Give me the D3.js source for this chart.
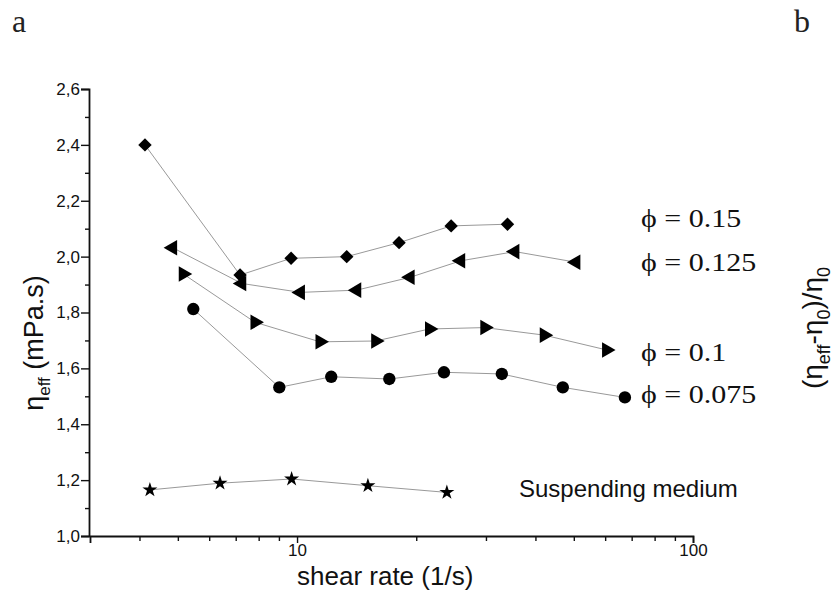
<!DOCTYPE html>
<html>
<head>
<meta charset="utf-8">
<script src="https://cdn.jsdelivr.net/npm/d3@7"></script>
<style>
  body { margin: 0; background: #fff; }
  svg { display: block; }
</style>
</head>
<body>
<div id="chart"></div>
<script>
// shear rate (1/s) and effective viscosity (mPa.s)
var phi150_x = [4.13, 7.18, 9.66, 13.35, 18.1, 24.5, 34.0];
var phi150_y = [2.40, 1.934, 1.994, 2.00, 2.05, 2.11, 2.116];
var phi125_x = [4.85, 7.25, 10.2, 14.15, 19.3, 25.9, 35.5, 50.6];
var phi125_y = [2.032, 1.904, 1.872, 1.88, 1.926, 1.985, 2.018, 1.98];
var phi100_x = [5.16, 7.83, 11.43, 15.8, 21.6, 29.8, 42.1, 60.5];
var phi100_y = [1.938, 1.765, 1.695, 1.698, 1.741, 1.746, 1.719, 1.666];
var phi075_x = [5.47, 9.02, 12.2, 17.1, 23.5, 32.9, 46.9, 67.3];
var phi075_y = [1.8125, 1.532, 1.570, 1.562, 1.586, 1.58, 1.532, 1.496];
var medium_x = [4.25, 6.39, 9.69, 15.1, 23.9];
var medium_y = [1.165, 1.189, 1.204, 1.18, 1.156];

var yMajor = [1.0, 1.2, 1.4, 1.6, 1.8, 2.0, 2.2, 2.4, 2.6];
var yMinor = [1.1, 1.3, 1.5, 1.7, 1.9, 2.1, 2.3, 2.5];
var xMajor = [10, 100];
var xMinor = [4, 5, 6, 7, 8, 9, 20, 30, 40, 50, 60, 70, 80, 90];

var width = 838, height = 593;

var svg = d3.select('#chart').append('svg')
    .attr('width', width)
    .attr('height', height);

var x = d3.scaleLog().domain([3, 100]).range([90, 693]);
var y = d3.scaleLinear().domain([1.0, 2.6]).range([536, 89]);

var tickFont = "'Liberation Sans', Arial, sans-serif";

// y axis
svg.append('g')
    .attr('transform', 'translate(89,0)')
    .call(d3.axisLeft(y).tickValues(yMajor).tickSize(8).tickPadding(1)
      .tickFormat(d => d.toFixed(1).replace('.', ',')));
svg.append('g')
    .attr('transform', 'translate(89,0)')
    .call(d3.axisLeft(y).tickValues(yMinor).tickSize(4).tickFormat(''))
    .select('.domain').remove();

// x axis
svg.append('g')
    .attr('transform', 'translate(0,536)')
    .call(d3.axisBottom(x).tickValues(xMajor).tickSize(7).tickPadding(1)
      .tickFormat(d3.format('d')));
svg.append('g')
    .attr('transform', 'translate(0,536)')
    .call(d3.axisBottom(x).tickValues(xMinor).tickSize(5).tickFormat(''))
    .select('.domain').remove();

svg.selectAll('.domain').attr('stroke', '#111').attr('stroke-width', 1.8);
svg.selectAll('.tick line').attr('stroke', '#111').attr('stroke-width', 1.4);
svg.selectAll('.tick text')
    .attr('font-size', 17)
    .attr('font-family', tickFont)
    .style('font-size', '17px')
    .attr('fill', '#111');

// series
var series = [
  {xs: phi150_x, ys: phi150_y, shape: 'diamond'},
  {xs: phi125_x, ys: phi125_y, shape: 'left'},
  {xs: phi100_x, ys: phi100_y, shape: 'right'},
  {xs: phi075_x, ys: phi075_y, shape: 'circle'},
  {xs: medium_x, ys: medium_y, shape: 'star'}
];

var line = d3.line().x(d => x(d[0])).y(d => y(d[1]));

var symbols = {
  diamond: d3.symbol().type(d3.symbolSquare).size(90),
  circle: d3.symbol().type(d3.symbolCircle).size(120),
  left: d3.symbol().type(d3.symbolTriangle).size(105),
  right: d3.symbol().type(d3.symbolTriangle).size(105),
  star: d3.symbol().type(d3.symbolStar).size(70)
};
var rotation = {diamond: 45, circle: 0, left: -90, right: 90, star: 0};

series.forEach(function(s) {
  var pts = s.xs.map((v, i) => [v, s.ys[i]]);
  svg.append('path')
      .datum(pts)
      .attr('d', line)
      .attr('fill', 'none')
      .attr('stroke', '#999')
      .attr('stroke-width', 1);
  svg.selectAll(null)
      .data(pts)
      .enter().append('path')
      .attr('d', symbols[s.shape])
      .attr('transform', d => `translate(${x(d[0])},${y(d[1])}) rotate(${rotation[s.shape]})`)
      .attr('fill', '#000');
});

// labels
var serif = "'Liberation Serif', 'Times New Roman', serif";
var phiLabels = [
  {text: '\u03D5 = 0.15', y: 227},
  {text: '\u03D5 = 0.125', y: 271},
  {text: '\u03D5 = 0.1', y: 361},
  {text: '\u03D5 = 0.075', y: 403}
];
svg.selectAll('.phi')
    .data(phiLabels)
    .enter().append('text')
    .attr('class', 'phi')
    .attr('transform', d => `translate(641,${d.y}) scale(1.2,1)`)
    .style('font-family', serif)
    .style('font-size', '25px')
    .attr('fill', '#111')
    .text(d => d.text);

svg.append('text')
    .attr('x', 519)
    .attr('y', 497)
    .style('font-family', tickFont)
    .style('font-size', '24px')
    .attr('fill', '#111')
    .text('Suspending medium');

svg.append('text')
    .attr('x', 297)
    .attr('y', 585)
    .style('font-family', tickFont)
    .style('font-size', '26px')
    .attr('fill', '#111')
    .text('shear rate (1/s)');

// y label
var yl = svg.append('text')
    .attr('transform', 'translate(43,343) rotate(-90)')
    .attr('text-anchor', 'middle')
    .style('font-family', tickFont)
    .style('font-size', '27px')
    .attr('fill', '#111');
yl.append('tspan').text('\u03B7');
yl.append('tspan').attr('dy', 7).style('font-size', '17px').text('eff');
yl.append('tspan').attr('dy', -7).text(' (mPa.s)');

// right panel label (panel b)
var rl = svg.append('text')
    .attr('transform', 'translate(822,328) rotate(-90)')
    .attr('text-anchor', 'middle')
    .style('font-family', tickFont)
    .style('font-size', '28px')
    .attr('fill', '#111');
rl.append('tspan').text('(\u03B7');
rl.append('tspan').attr('dy', 8).style('font-size', '18px').text('eff');
rl.append('tspan').attr('dy', -8).text('-\u03B7');
rl.append('tspan').attr('dy', 8).style('font-size', '18px').text('0');
rl.append('tspan').attr('dy', -8).text(')/\u03B7');
rl.append('tspan').attr('dy', 8).style('font-size', '18px').text('0');

svg.append('text').attr('x', 12).attr('y', 32)
    .style('font-family', serif).style('font-size', '32px').attr('fill', '#222').text('a');
svg.append('text').attr('x', 794).attr('y', 32)
    .style('font-family', serif).style('font-size', '32px').attr('fill', '#222').text('b');
</script>
</body>
</html>
